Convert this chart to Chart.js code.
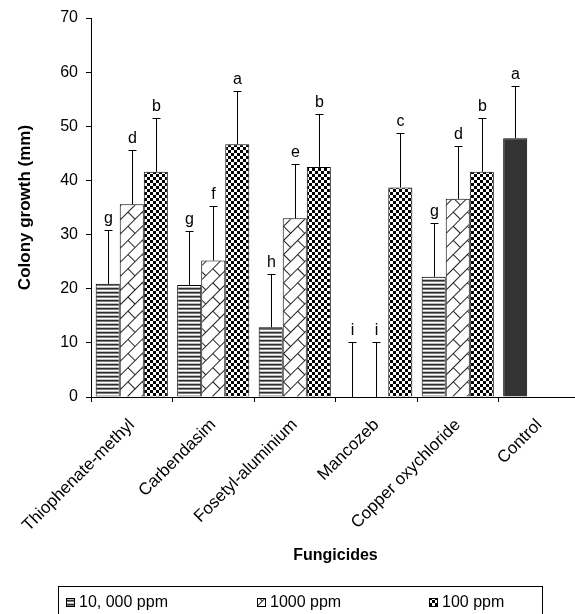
<!DOCTYPE html>
<html>
<head>
<meta charset="utf-8">
<script src="https://cdn.jsdelivr.net/npm/chart.js@4.4.0/dist/chart.umd.min.js"></script>
<style>
  html, body { margin: 0; padding: 0; background: #fff; overflow: hidden; }
  #wrap { width: 580px; height: 614px; }
</style>
</head>
<body>
<div id="wrap"><canvas id="chart" width="580" height="614"></canvas></div>
<script>
// categories and series
const fungicides = ['Thiophenate-methyl', 'Carbendasim', 'Fosetyl-aluminium', 'Mancozeb', 'Copper oxychloride', 'Control'];
const ppm10000 = [20.9, 20.7, 12.9, 0, 22.2, 47.8];
const ppm1000 = [35.6, 25.2, 33.0, 0, 36.6, null];
const ppm100 = [41.6, 46.7, 42.5, 38.7, 41.6, null];

// error bar sizes (upper only)
const err10000 = [10.0, 10.0, 9.9, 10.2, 10.0, 9.7];
const err1000 = [10.0, 10.1, 10.1, 10.2, 9.8, null];
const err100 = [9.9, 9.9, 9.8, 10.1, 9.9, null];

// significance letters
const letters10000 = ['g', 'g', 'h', 'i', 'g', 'a'];
const letters1000 = ['d', 'f', 'e', 'i', 'd', ''];
const letters100 = ['b', 'a', 'b', 'c', 'b', ''];

const seriesNames = ['10, 000 ppm', '1000 ppm', '100 ppm'];
const yTicks = [0, 10, 20, 30, 40, 50, 60, 70];

const FONT = '"Liberation Sans", Arial, Helvetica, sans-serif';

function makePattern(w, h, draw) {
    const c = document.createElement('canvas');
    c.width = w;
    c.height = h;
    const g = c.getContext('2d');
    draw(g);
    return g.createPattern(c, 'repeat');
}

// horizontal stripes
const stripes = makePattern(1, 4, function (g) {
    const rows = ['#2e2e2e', '#7a7a7a', '#ffffff', '#bdbdbd'];
    rows.forEach((col, i) => { g.fillStyle = col; g.fillRect(0, i, 1, 1); });
});

// diagonal brick
const bricks = makePattern(20, 20, function (g) {
    g.fillStyle = '#fff';
    g.fillRect(0, 0, 20, 20);
    g.fillStyle = '#222';
    g.fillRect(0, 0, 20, 1);
    g.fillRect(0, 10, 20, 1);
    g.fillRect(0, 0, 1, 10);
    g.fillRect(10, 10, 1, 10);
});
bricks.setTransform(new DOMMatrix().rotate(-45));

// checkerboard
const checks = makePattern(6, 6, function (g) {
    g.fillStyle = '#fff';
    g.fillRect(0, 0, 6, 6);
    g.fillStyle = '#000';
    g.fillRect(0, 0, 3, 3);
    g.fillRect(3, 3, 3, 3);
});

const controlColor = '#333333';
const fills = [stripes, bricks, checks];
const errors = [err10000, err1000, err100];
const letters = [letters10000, letters1000, letters100];

const errorBarPlugin = {
    id: 'errorBars',
    afterDatasetsDraw(chart) {
        const ctx = chart.ctx;
        const y = chart.scales.y;
        ctx.save();
        ctx.strokeStyle = '#000';
        ctx.lineWidth = 1;
        ctx.fillStyle = '#000';
        ctx.font = '16px ' + FONT;
        ctx.textAlign = 'center';
        ctx.textBaseline = 'alphabetic';
        chart.data.datasets.forEach((ds, i) => {
            const meta = chart.getDatasetMeta(i);
            meta.data.forEach((bar, j) => {
                const v = ds.data[j];
                const e = errors[i][j];
                if (v === null || e === null) return;
                const x = Math.round(bar.x) + 0.5;
                const yBase = y.getPixelForValue(v);
                const yTop = Math.round(y.getPixelForValue(v + e)) + 0.5;
                ctx.beginPath();
                ctx.moveTo(x, yBase);
                ctx.lineTo(x, yTop);
                ctx.moveTo(x - 4, yTop);
                ctx.lineTo(x + 4, yTop);
                ctx.stroke();
                if (letters[i][j]) ctx.fillText(letters[i][j], x, yTop - 8);
            });
        });
        ctx.restore();
    }
};

const legendBoxPlugin = {
    id: 'legendBox',
    afterDraw(chart) {
        const ctx = chart.ctx;
        ctx.save();
        ctx.strokeStyle = '#000';
        ctx.lineWidth = 1;
        ctx.strokeRect(58.5, 586.5, 484, 40);
        const itemX = [66, 257, 429];
        ctx.font = '16px ' + FONT;
        ctx.textBaseline = 'alphabetic';
        ctx.textAlign = 'left';
        seriesNames.forEach((name, i) => {
            ctx.fillStyle = fills[i];
            ctx.fillRect(itemX[i], 598, 9, 9);
            ctx.strokeRect(itemX[i] + 0.5, 598.5, 8, 8);
            ctx.fillStyle = '#000';
            ctx.fillText(name, itemX[i] + 13, 607);
        });
        ctx.restore();
    }
};

new Chart(document.getElementById('chart'), {
    type: 'bar',
    data: {
        labels: fungicides,
        datasets: [
            {
                label: seriesNames[0],
                data: ppm10000,
                backgroundColor: ppm10000.map((v, j) => j === fungicides.length - 1 ? controlColor : stripes),
                borderColor: '#000',
                borderWidth: 1
            },
            {
                label: seriesNames[1],
                data: ppm1000,
                backgroundColor: bricks,
                borderColor: '#000',
                borderWidth: 1
            },
            {
                label: seriesNames[2],
                data: ppm100,
                backgroundColor: checks,
                borderColor: '#000',
                borderWidth: 1
            }
        ]
    },
    options: {
        responsive: false,
        animation: false,
        devicePixelRatio: 1,
        categoryPercentage: 0.885,
        barPercentage: 1.0,
        layout: {
            padding: { top: 18, left: 0, right: 0, bottom: 46 }
        },
        plugins: {
            legend: { display: false },
            tooltip: { enabled: false }
        },
        scales: {
            x: {
                offset: true,
                grid: {
                    offset: true,
                    drawOnChartArea: false,
                    drawTicks: true,
                    tickLength: 5,
                    color: '#000'
                },
                border: { color: '#000', width: 1 },
                ticks: {
                    color: '#000',
                    font: { family: FONT, size: 17 },
                    maxRotation: 45,
                    minRotation: 45,
                    autoSkip: false,
                    padding: 13
                },
                title: {
                    display: true,
                    text: 'Fungicides',
                    color: '#000',
                    font: { family: FONT, size: 16, weight: 'bold' },
                    padding: { top: 0, bottom: 3 }
                },
                afterFit(scale) { scale.height = 171; }
            },
            y: {
                min: 0,
                max: 70,
                afterBuildTicks(scale) { scale.ticks = yTicks.map(v => ({ value: v })); },
                grid: {
                    drawOnChartArea: false,
                    drawTicks: true,
                    tickLength: 5,
                    color: '#000'
                },
                border: { color: '#000', width: 1 },
                ticks: {
                    color: '#000',
                    font: { family: FONT, size: 16 },
                    padding: 8
                },
                title: {
                    display: true,
                    text: 'Colony growth (mm)',
                    color: '#000',
                    font: { family: FONT, size: 17, weight: 'bold' },
                    padding: { top: 15, bottom: 0 }
                },
                afterFit(scale) { scale.width = 91; }
            }
        }
    },
    plugins: [errorBarPlugin, legendBoxPlugin]
});
</script>
</body>
</html>
